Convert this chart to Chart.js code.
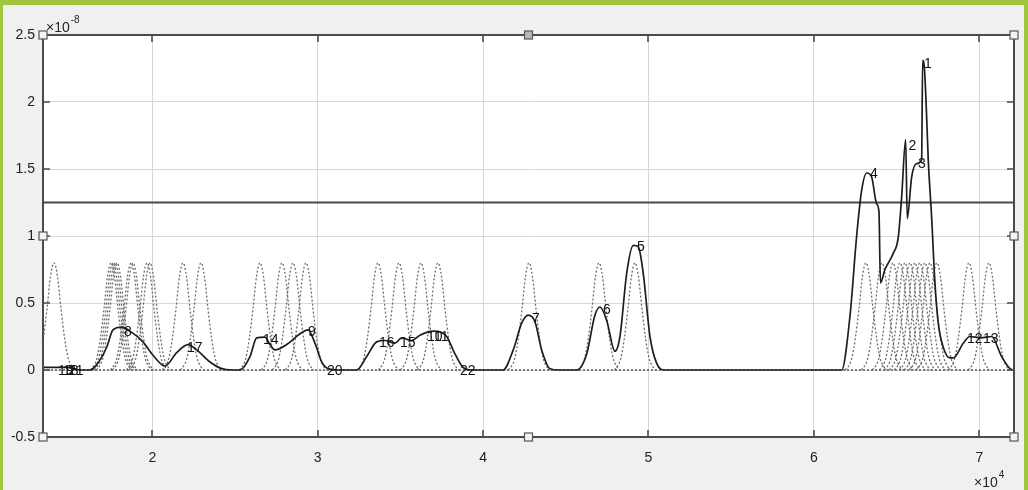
<!DOCTYPE html>
<html><head><meta charset="utf-8">
<script src="https://cdn.jsdelivr.net/npm/chart.js@4.4.0/dist/chart.umd.min.js"></script>
<style>
html,body{margin:0;padding:0;background:#f0f0f0;overflow:hidden;}
#wrap{position:relative;width:1028px;height:490px;}
canvas{position:absolute;left:0;top:0;}
.g{position:absolute;background:#9fc63c;}
</style></head><body>
<div id="wrap">
<canvas id="c" width="1028" height="490"></canvas>
<div class="g" style="left:0;top:0;width:1028px;height:5px"></div>
<div class="g" style="left:0;top:0;width:3px;height:490px"></div>
<div class="g" style="left:1024px;top:0;width:4px;height:490px"></div>
</div>
<script>
// ---- axis ranges and ticks ----
const xMin = 13390, xMax = 72100;
const yMin = -0.5, yMax = 2.5;            // units of 1e-8
const xTickValues = [20000, 30000, 40000, 50000, 60000, 70000];
const yTickValues = [-0.5, 0, 0.5, 1, 1.5, 2, 2.5];
const threshold = 1.25;

// ---- solid (summed) curve ----
const sumX = [13390,14116,14781,15264,15627,16232,16637,17241,17622,18148,18650,19436,20041,20766,21473,22157,22683,23487,24194,24817,25301,25905,26310,26812,27114,27417,28124,28928,29412,29835,30240,30621,31226,32356,32961,33565,34067,34672,35077,35681,36183,36987,37495,37798,38300,38783,39327,41202,41824,42332,42731,43136,43541,44043,44587,45657,46262,46764,47066,47471,47973,48275,48680,49079,49382,49684,50089,50494,50996,61679,62181,62586,62888,63191,63493,63795,63935,64025,64297,64799,65101,65307,65549,65645,65911,66213,66516,66576,66685,66818,66915,67120,67320,67519,67822,68227,68426,69031,69436,70101,70748,71353,71855,72100];
const sumY = [0.02,0.02,0.02,0.01,0.0,0.0,0.04,0.17,0.30,0.32,0.29,0.21,0.11,0.03,0.13,0.19,0.15,0.06,0.01,0.0,0.0,0.10,0.24,0.245,0.19,0.15,0.19,0.27,0.30,0.20,0.06,0.01,0.0,0.0,0.10,0.21,0.22,0.20,0.24,0.22,0.26,0.29,0.28,0.25,0.12,0.02,0.0,0.0,0.15,0.35,0.41,0.36,0.15,0.01,0.0,0.0,0.12,0.41,0.47,0.37,0.14,0.25,0.72,0.93,0.92,0.72,0.25,0.05,0.0,0.0,0.40,1.00,1.34,1.47,1.44,1.24,1.18,0.65,0.75,0.87,0.99,1.29,1.72,1.13,1.44,1.54,1.57,2.31,2.25,1.89,1.57,1.14,0.65,0.35,0.17,0.09,0.09,0.20,0.25,0.24,0.25,0.10,0.01,0.0];

// ---- dotted component peaks ----
const peakCenters = [14055,17501,17622,17743,17864,18710,18831,19678,19859,21854,22943,26510,27840,28505,29291,33644,34914,36244,37272,42774,47006,49182,63149,64116,64781,65204,65507,65809,66111,66413,66716,67018,67441,69376,70585];
const profileDx = [-1250,-1050,-850,-650,-420,-210,0,210,420,650,850,1050,1250];
const profileDy = [0,0.03,0.09,0.23,0.46,0.70,0.8,0.70,0.46,0.23,0.09,0.03,0];

// ---- peak number labels ----
const labelText = ['1','2','3','4','5','6','7','8','9','10','11','12','13','14','15','16','17','18','19','20','21','22'];
const labelX = [66595,65660,66232,63330,49243,47187,42894,18227,29351,36546,36969,69195,70162,26631,34914,33644,22036,14539,14236,30500,14841,38541];
const labelY = [2.29,1.68,1.54,1.47,0.925,0.455,0.39,0.29,0.29,0.25,0.25,0.24,0.24,0.23,0.21,0.21,0.17,0,0,0,0,0];

const datasets = [];
datasets.push({label:'sum', data: sumX.map((x,i)=>({x:x, y:sumY[i]})), borderColor:'#1e1e1e', borderWidth:1.7, pointRadius:0, cubicInterpolationMode:'monotone'});
datasets.push({label:'threshold', data:[{x:xMin,y:threshold},{x:xMax,y:threshold}], borderColor:'#4a4a4a', borderWidth:1.8, pointRadius:0});
datasets.push({label:'base', data:[{x:xMin,y:0},{x:xMax,y:0}], borderColor:'#5a5a5a', borderDash:[2,2], borderWidth:1.5, pointRadius:0});
peakCenters.forEach((c,k)=>{
  datasets.push({label:'p'+k, data: profileDx.map((d,i)=>({x:c+d, y:profileDy[i]})), borderColor:'#6e6e6e', borderDash:[2,2], borderWidth:1.3, pointRadius:0, cubicInterpolationMode:'monotone'});
});

const FONT = '"Liberation Sans", Arial, sans-serif';

const decor = {
  id:'decor',
  beforeDraw(chart){
    const {ctx, chartArea:a} = chart;
    ctx.save(); ctx.fillStyle='#ffffff';
    ctx.fillRect(a.left,a.top,a.right-a.left,a.bottom-a.top);
    ctx.restore();
  },
  afterDatasetsDraw(chart){
    const {ctx, scales} = chart;
    ctx.save();
    ctx.font = '14px ' + FONT;
    ctx.fillStyle = '#111111';
    ctx.textAlign = 'left'; ctx.textBaseline = 'middle';
    labelText.forEach((t,i)=>{
      ctx.fillText(t, scales.x.getPixelForValue(labelX[i]) + 1, scales.y.getPixelForValue(labelY[i]) + 1);
    });
    ctx.restore();
  },
  afterDraw(chart){
    const {ctx, chartArea:a, scales} = chart;
    ctx.save();
    // frame
    ctx.strokeStyle = '#4a4a4a'; ctx.lineWidth = 2;
    ctx.strokeRect(a.left, a.top, a.right-a.left, a.bottom-a.top);
    // inward ticks
    ctx.lineWidth = 1.6;
    const L = 7;
    ctx.beginPath();
    xTickValues.forEach(v=>{
      const px = Math.round(scales.x.getPixelForValue(v));
      ctx.moveTo(px, a.bottom); ctx.lineTo(px, a.bottom-L);
      ctx.moveTo(px, a.top); ctx.lineTo(px, a.top+L);
    });
    yTickValues.forEach(v=>{
      const py = Math.round(scales.y.getPixelForValue(v));
      ctx.moveTo(a.left, py); ctx.lineTo(a.left+L, py);
      ctx.moveTo(a.right, py); ctx.lineTo(a.right-L, py);
    });
    ctx.stroke();
    // exponent labels
    ctx.fillStyle = '#262626';
    ctx.textBaseline = 'alphabetic'; ctx.textAlign = 'left';
    ctx.font = '14px ' + FONT;
    ctx.fillText('\u00d710', a.left+3, a.top-3);
    let w = ctx.measureText('\u00d710').width;
    ctx.font = '10px ' + FONT;
    ctx.fillText('-8', a.left+3+w+1, a.top-12);
    ctx.font = '14px ' + FONT;
    const bx = a.right - 40;
    ctx.fillText('\u00d710', bx, a.bottom+50);
    w = ctx.measureText('\u00d710').width;
    ctx.font = '10px ' + FONT;
    ctx.fillText('4', bx+w+1, a.bottom+41);
    // selection handles
    const mx = (a.left+a.right)/2, my = (a.top+a.bottom)/2;
    const hs = [[a.left,a.top],[mx,a.top],[a.right,a.top],[a.left,my],[a.right,my],[a.left,a.bottom],[mx,a.bottom],[a.right,a.bottom]];
    hs.forEach(([hx,hy],i)=>{
      ctx.fillStyle = (i===1) ? '#b8b8b8' : '#f4f4f4';
      ctx.fillRect(hx-4, hy-4, 8, 8);
      ctx.strokeStyle = '#555'; ctx.lineWidth = 1.2;
      ctx.strokeRect(hx-4, hy-4, 8, 8);
    });
    ctx.restore();
  }
};

new Chart(document.getElementById('c'), {
  type:'line',
  data:{datasets:datasets},
  plugins:[decor],
  options:{
    responsive:false, animation:false, devicePixelRatio:1,
    layout:{padding:{left:0, top:35, right:14, bottom:0}},
    plugins:{legend:{display:false}, tooltip:{enabled:false}},
    scales:{
      x:{
        type:'linear', min:xMin, max:xMax,
        afterBuildTicks:(s)=>{ s.ticks = xTickValues.map(v=>({value:v})); },
        afterFit:(s)=>{ s.height = 53; },
        grid:{color:'#d8d8d8', lineWidth:1, drawTicks:false},
        border:{display:false},
        ticks:{padding:13, color:'#222', font:{family:FONT, size:14}, maxRotation:0, autoSkip:false,
               callback:(v)=>String(v/10000)}
      },
      y:{
        type:'linear', min:yMin, max:yMax,
        afterBuildTicks:(s)=>{ s.ticks = yTickValues.map(v=>({value:v})); },
        afterFit:(s)=>{ s.width = 43; },
        grid:{color:'#d8d8d8', lineWidth:1, drawTicks:false},
        border:{display:false},
        ticks:{padding:8, color:'#222', font:{family:FONT, size:14}, autoSkip:false,
               callback:(v)=>String(v)}
      }
    }
  }
});
</script>
</body></html>
